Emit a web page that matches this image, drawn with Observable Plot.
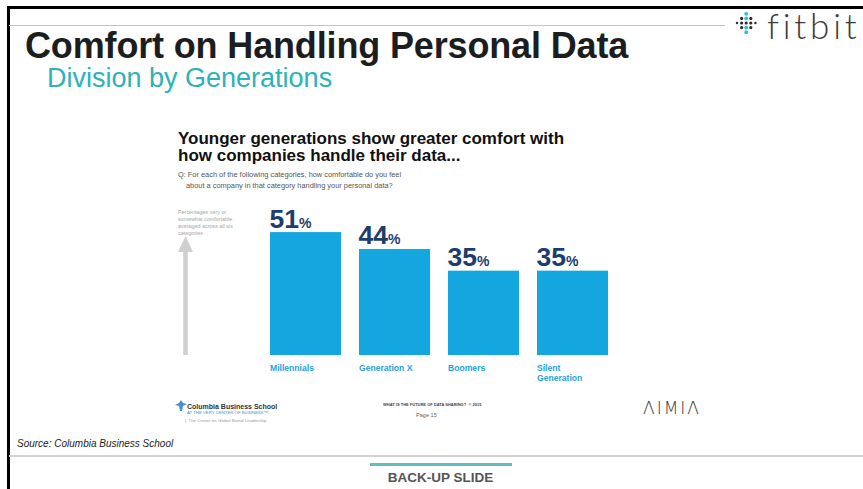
<!DOCTYPE html>
<html>
<head>
<meta charset="utf-8">
<script src="https://cdn.jsdelivr.net/npm/d3@7"></script>
<script src="https://cdn.jsdelivr.net/npm/@observablehq/plot@0.6"></script>
<style>
  html, body { margin: 0; padding: 0; background: #fff; }
  #page { position: relative; width: 863px; height: 489px; overflow: hidden; background: #fff; font-family: "Liberation Sans", Arial, sans-serif; }
  .t { position: absolute; white-space: pre; line-height: 1; }
  .rule { position: absolute; }
  #chart { position: absolute; left: 0; top: 0; }
</style>
</head>
<body>
<div id="page"></div>
<script>
// ---- data ----
const categories = ["Millennials", "Generation X", "Boomers", "Silent Generation"];
const values = [51, 44, 35, 35];
const barLabels = ["Millennials", "Generation X", "Boomers", "Silent\nGeneration"];
const titleText = "Comfort on Handling Personal Data";
const subtitleText = "Division by Generations";
const headingLines = ["Younger generations show greater comfort with", "how companies handle their data..."];
const questionLines = ["Q: For each of the following categories, how comfortable do you feel", "about a company in that category handling your personal data?"];
const noteLines = ["Percentages very or", "somewhat comfortable", "averaged across all six", "categories"];
const sourceText = "Source: Columbia Business School";

const page = document.getElementById("page");

function rule(left, top, width, height, color) {
  const d = document.createElement("div");
  d.className = "rule";
  Object.assign(d.style, {left: left + "px", top: top + "px", width: width + "px", height: height + "px", background: color});
  page.appendChild(d);
}
function put(text, x, base, fs, css = {}) {
  const d = document.createElement("div");
  d.className = "t";
  d.textContent = text;
  Object.assign(d.style, {left: x + "px", top: (base - 0.86 * fs) + "px", fontSize: fs + "px"}, css);
  page.appendChild(d);
  return d;
}

// frame lines
rule(7, 6, 856, 2.5, "#000");
rule(7, 6, 2.5, 483, "#000");
rule(9, 25, 716, 1, "#c4c4c4");
rule(9, 455, 854, 2, "#d2d2d2");
rule(370, 463, 142, 3, "#5cbfc2");

// header texts
put(titleText, 25, 58.5, 36, {fontWeight: "bold", color: "#1b1d1f", letterSpacing: "-0.15px"});
put(subtitleText, 47, 88.5, 27, {color: "#2cb2b8"});
put("fitbit", 767, 38, 35, {fontFamily: "Lato, 'Open Sans', sans-serif", fontWeight: "300", color: "#3a3a3a", letterSpacing: "3.8px"});

// fitbit dots
(function() {
  const ns = "http://www.w3.org/2000/svg";
  const s = document.createElementNS(ns, "svg");
  s.setAttribute("width", 30); s.setAttribute("height", 26);
  s.style.position = "absolute"; s.style.left = "733px"; s.style.top = "11px";
  const cols = [[0], [-1, 0, 1], [-2, -1, 0, 1, 2], [-1, 0, 1], [0]];
  cols.forEach((rows, ci) => rows.forEach(r => {
    const c = document.createElementNS(ns, "circle");
    c.setAttribute("cx", 4 + ci * 4.6);
    c.setAttribute("cy", 12 + r * 4.6);
    c.setAttribute("r", ci === 2 && r !== 0 ? 1.9 : (ci === 0 || ci === 4 ? 1.2 : 1.6));
    c.setAttribute("fill", ci === 2 && r !== 0 ? "#2cc0c9" : "#2b2b2b");
    s.appendChild(c);
  }));
  page.appendChild(s);
})();

// chart heading (one block, two lines)
put(headingLines.join("\n"), 178, 144.5, 17, {fontWeight: "bold", color: "#111", lineHeight: "17px"});
put(questionLines[0], 178, 177, 7.4, {color: "#555"});
put(questionLines[1], 186, 188, 7.4, {color: "#555"});
noteLines.forEach((l, i) => put(l, 178, 214.5 + i * 7.2, 5.4, {color: "#a6a6a6"}));

// arrow (decorative)
(function() {
  const ns = "http://www.w3.org/2000/svg";
  const s = document.createElementNS(ns, "svg");
  s.setAttribute("width", 20); s.setAttribute("height", 125);
  s.style.position = "absolute"; s.style.left = "176px"; s.style.top = "234px";
  const p = document.createElementNS(ns, "path");
  p.setAttribute("d", "M9.5,2 L17,18 L11.8,18 L11.8,121 L7.2,121 L7.2,18 L2,18 Z");
  p.setAttribute("fill", "#d0d0d0");
  s.appendChild(p);
  page.appendChild(s);
})();

// footer logos / texts
(function() {
  const ns = "http://www.w3.org/2000/svg";
  const s = document.createElementNS(ns, "svg");
  s.setAttribute("width", 14); s.setAttribute("height", 14);
  s.style.position = "absolute"; s.style.left = "174px"; s.style.top = "399px";
  const p = document.createElementNS(ns, "path");
  p.setAttribute("d", "M7,1 L9,4 L13,5 L9,7 L8,12 L6,12 L5,7 L1,6 L5,4 Z");
  p.setAttribute("fill", "#4a8fd6");
  s.appendChild(p);
  page.appendChild(s);
})();
put("Columbia Business School", 187, 409, 7, {fontWeight: "bold", color: "#333"});
put("AT THE VERY CENTER OF BUSINESS\u2122", 187, 414.5, 4.3, {color: "#3b8ed4"});
put("|  The Center on Global Brand Leadership", 185, 423, 4.4, {color: "#9a9a9a"});
put("WHAT IS THE FUTURE OF DATA SHARING?  \u00A9 2015", 383, 406.5, 4, {fontWeight: "bold", color: "#444"});
put("Page 15", 416, 418, 5.6, {color: "#666"});
put("\u039BIMI\u039B", 643, 415, 17, {color: "#333", letterSpacing: "2px", fontFamily: "'DejaVu Sans', sans-serif", fontWeight: "200"});
put(sourceText, 17, 448, 10, {fontStyle: "italic", color: "#222"});
put("BACK-UP SLIDE", 0, 483, 13.5, {fontWeight: "bold", color: "#555", width: "863px", textAlign: "center", left: "9px"});

// ---- chart ----
const data = categories.map((c, i) => ({category: c, value: values[i], label: barLabels[i]}));
const pxPerUnit = 2.41;
const baseY = 355;
const yMax = 60;
const chart = Plot.plot({
  width: 863,
  height: 489,
  marginLeft: 270,
  marginRight: 254,
  marginTop: baseY - yMax * pxPerUnit,
  marginBottom: 489 - baseY,
  style: {background: "transparent", fontFamily: "'Liberation Sans', Arial, sans-serif"},
  x: {domain: categories, paddingInner: 0.2, paddingOuter: 0, axis: null},
  y: {domain: [0, yMax], axis: null},
  marks: [
    Plot.barY(data, {x: "category", y: "value", fill: "#14a6de"}),
    Plot.text(data, {x: "category", y: "value", text: d => String(d.value), textAnchor: "start", lineAnchor: "bottom", dx: -36.5, dy: -5, fontSize: 26.5, fontWeight: "bold", fill: "#1d3d6b"}),
    Plot.text(data, {x: "category", y: "value", text: () => "%", textAnchor: "start", lineAnchor: "bottom", dx: -7, dy: -5, fontSize: 14, fontWeight: "bold", fill: "#1d3d6b"}),
    Plot.text(data, {x: "category", y: 0, text: "label", textAnchor: "start", lineAnchor: "top", dx: -36, dy: 8, fontSize: 8.6, fontWeight: "bold", fill: "#1fa2da", lineHeight: 1.2})
  ]
});
chart.id = "chart";
page.appendChild(chart);
</script>
</body>
</html>
